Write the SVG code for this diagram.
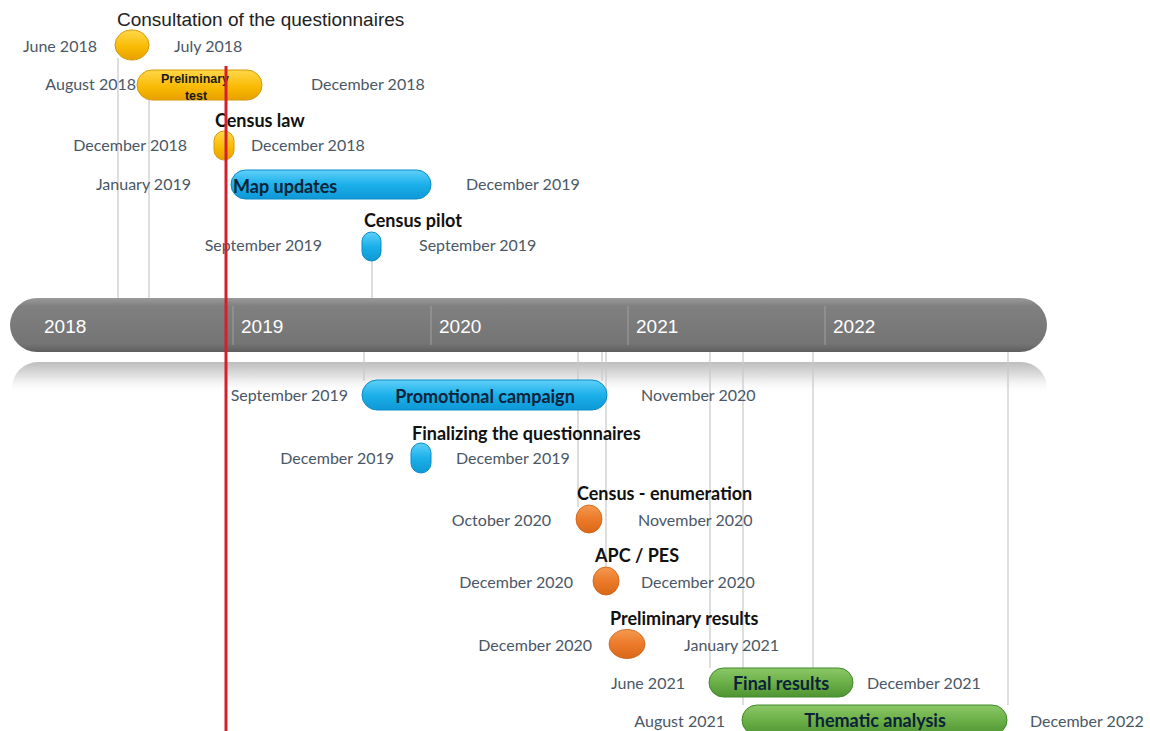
<svg xmlns="http://www.w3.org/2000/svg" width="1150" height="731" viewBox="0 0 1150 731">
<defs>
<linearGradient id="gY" x1="0" y1="0" x2="0" y2="1"><stop offset="0" stop-color="#ffd84a"/><stop offset="0.6" stop-color="#f8b800"/><stop offset="1" stop-color="#e8a000"/></linearGradient>
<linearGradient id="gB" x1="0" y1="0" x2="0" y2="1"><stop offset="0" stop-color="#5fd0f8"/><stop offset="0.5" stop-color="#1cb0ea"/><stop offset="1" stop-color="#0e98d6"/></linearGradient>
<linearGradient id="gO" x1="0" y1="0" x2="0" y2="1"><stop offset="0" stop-color="#f49a50"/><stop offset="0.5" stop-color="#ec7a2a"/><stop offset="1" stop-color="#d86818"/></linearGradient>
<linearGradient id="gG" x1="0" y1="0" x2="0" y2="1"><stop offset="0" stop-color="#8cc868"/><stop offset="0.5" stop-color="#6cb048"/><stop offset="1" stop-color="#4e9432"/></linearGradient>
<linearGradient id="gBar" x1="0" y1="0" x2="0" y2="1"><stop offset="0" stop-color="#9a9a9a"/><stop offset="0.15" stop-color="#808080"/><stop offset="0.85" stop-color="#747474"/><stop offset="1" stop-color="#5e5e5e"/></linearGradient>
<linearGradient id="gRef" x1="0" y1="0" x2="0" y2="1"><stop offset="0" stop-color="#bdbdbd"/><stop offset="0.45" stop-color="#e2e2e2"/><stop offset="1" stop-color="#ffffff" stop-opacity="0"/></linearGradient>
</defs>
<style>
.date{font-family:Lato,"Liberation Sans",sans-serif;font-size:16px;fill:#4a5766}
.end{text-anchor:end}
.ttl{font-family:Lato,"Liberation Sans",sans-serif;font-size:18px;font-weight:bold;fill:#111}
.in{font-family:Lato,"Liberation Sans",sans-serif;font-size:18px;font-weight:bold;fill:#0c2238;text-anchor:middle}
.yr{font-family:"Liberation Sans Narrow","Liberation Sans",sans-serif;font-size:19px;fill:#ffffff}
.conn{stroke:#c8c8c8;stroke-width:1.2;fill:none}
.div{stroke:#a0a0a0;stroke-width:1}
.y{fill:url(#gY);stroke:#d89a00;stroke-width:1}
.b{fill:url(#gB);stroke:#0a8cc8;stroke-width:1}
.o{fill:url(#gO);stroke:#cc6010;stroke-width:0.8}
.g{fill:url(#gG);stroke:#3e8a28;stroke-width:1}
</style>
<rect width="1150" height="731" fill="#ffffff"/>

<g id="timeline">
<path d="M12,394 V388 A26,26 0 0 1 38,362 H1021 A26,26 0 0 1 1047,388 V394 Z" fill="url(#gRef)"/>
<rect x="10" y="298" width="1037" height="54" rx="27" fill="url(#gBar)"/>
<line class="div" x1="233" y1="306" x2="233" y2="345"/>
<line class="div" x1="431" y1="306" x2="431" y2="345"/>
<line class="div" x1="628" y1="306" x2="628" y2="345"/>
<line class="div" x1="825" y1="306" x2="825" y2="345"/>
<text class="yr" x="44" y="333">2018</text>
<text class="yr" x="241" y="333">2019</text>
<text class="yr" x="439" y="333">2020</text>
<text class="yr" x="636" y="333">2021</text>
<text class="yr" x="833" y="333">2022</text>
</g>

<g id="connectors">
<line class="conn" x1="118" y1="58" x2="118" y2="298"/>
<line class="conn" x1="149" y1="100" x2="149" y2="298"/>
<line class="conn" x1="372" y1="261" x2="372" y2="298"/>
<line class="conn" x1="364" y1="352" x2="364" y2="381"/>
<line class="conn" x1="578" y1="352" x2="578" y2="507"/>
<line class="conn" x1="602" y1="352" x2="602" y2="381"/>
<line class="conn" x1="606" y1="352" x2="606" y2="568"/>
<line class="conn" x1="710" y1="352" x2="710" y2="668"/>
<line class="conn" x1="743" y1="352" x2="743" y2="705"/>
<line class="conn" x1="813" y1="352" x2="813" y2="668"/>
<line class="conn" x1="1008" y1="352" x2="1008" y2="705"/>
</g>

<g id="consultation">
<ellipse class="y" cx="132" cy="45" rx="17" ry="15"/>
<text x="117" y="26" font-family="'Liberation Sans',Arial,sans-serif" font-size="19" fill="#222">Consultation of the questionnaires</text>
<text class="date end" x="97" y="52">June 2018</text>
<text class="date" x="174" y="52">July 2018</text>
</g>

<g id="preliminary-test">
<rect class="y" x="137" y="70" width="125" height="30" rx="15"/>
<text x="195" y="83" font-family="'Liberation Sans',Arial,sans-serif" font-size="12.5" font-weight="bold" fill="#1a1a1a" text-anchor="middle">Preliminary</text>
<text x="196" y="100" font-family="'Liberation Sans',Arial,sans-serif" font-size="12.5" font-weight="bold" fill="#1a1a1a" text-anchor="middle">test</text>
<text class="date end" x="136" y="90">August 2018</text>
<text class="date" x="311" y="90">December 2018</text>
</g>

<g id="census-law">
<rect class="y" x="214" y="131" width="20" height="29" rx="10"/>
<text class="ttl" x="215" y="127">Census law</text>
<text class="date end" x="187" y="151">December 2018</text>
<text class="date" x="251" y="151">December 2018</text>
</g>

<g id="map-updates">
<rect class="b" x="231" y="170" width="200" height="29" rx="14.5"/>
<text class="ttl" x="233" y="193" style="fill:#0c2238">Map updates</text>
<text class="date end" x="191" y="190">January 2019</text>
<text class="date" x="466" y="190">December 2019</text>
</g>

<g id="census-pilot">
<rect class="b" x="362" y="232" width="19" height="29" rx="9.5"/>
<text class="ttl" x="364" y="227">Census pilot</text>
<text class="date end" x="322" y="251">September 2019</text>
<text class="date" x="419" y="251">September 2019</text>
</g>

<g id="promotional-campaign">
<rect class="b" x="362" y="380" width="245" height="30" rx="15"/>
<text class="in" x="485" y="403">Promotional campaign</text>
<text class="date end" x="348" y="401">September 2019</text>
<text class="date" x="641" y="401">November 2020</text>
</g>

<g id="finalizing-questionnaires">
<rect class="b" x="411" y="443" width="20" height="30" rx="10"/>
<text class="ttl" x="412" y="440">Finalizing the questionnaires</text>
<text class="date end" x="394" y="464">December 2019</text>
<text class="date" x="456" y="464">December 2019</text>
</g>

<g id="census-enumeration">
<ellipse class="o" cx="589" cy="519" rx="13" ry="14"/>
<text class="ttl" x="577" y="500">Census - enumeration</text>
<text class="date end" x="551" y="526">October 2020</text>
<text class="date" x="638" y="526">November 2020</text>
</g>

<g id="apc-pes">
<ellipse class="o" cx="606" cy="581" rx="13" ry="14"/>
<text class="ttl" x="595" y="562">APC / PES</text>
<text class="date end" x="573" y="588">December 2020</text>
<text class="date" x="641" y="588">December 2020</text>
</g>

<g id="preliminary-results">
<ellipse class="o" cx="627" cy="644" rx="18" ry="14.5"/>
<text class="ttl" x="610" y="625">Preliminary results</text>
<text class="date end" x="592" y="651">December 2020</text>
<text class="date" x="684" y="651">January 2021</text>
</g>

<g id="final-results">
<rect class="g" x="709" y="668" width="144" height="29" rx="14.5"/>
<text class="in" x="781" y="690">Final results</text>
<text class="date end" x="685" y="689">June 2021</text>
<text class="date" x="867" y="689">December 2021</text>
</g>

<g id="thematic-analysis">
<rect class="g" x="742" y="705" width="265" height="30" rx="15"/>
<text class="in" x="875" y="727">Thematic analysis</text>
<text class="date end" x="725" y="727">August 2021</text>
<text class="date" x="1030" y="727">December 2022</text>
</g>

<g id="today-marker">
<line x1="226" y1="66" x2="226" y2="731" stroke="#d3202c" stroke-width="3"/>
</g>
</svg>
